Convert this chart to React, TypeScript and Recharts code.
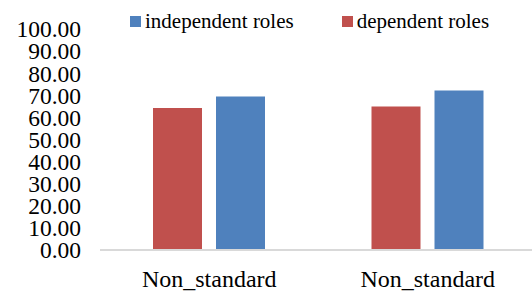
import { BarChart, Bar, XAxis, YAxis } from "recharts";

const categories = ["Non_standard", "Non_standard"];
const dependentRoles = [64.2, 64.9];
const independentRoles = [69.5, 72.2];
const yTicks = [0, 10, 20, 30, 40, 50, 60, 70, 80, 90, 100];

const legendItems = [
  { label: "independent roles", color: "#4F81BD" },
  { label: "dependent roles", color: "#C0504D" },
];

const data = categories.map((name, i) => ({
  name,
  dependent: dependentRoles[i],
  independent: independentRoles[i],
}));

const font = "Times New Roman, Liberation Serif, DejaVu Serif, serif";

export default function App() {
  return (
    <div
      style={{
        position: "absolute",
        left: 0,
        top: 0,
        width: 532,
        height: 291,
        overflow: "hidden",
        background: "#fff",
        fontFamily: font,
      }}
    >
      <div
        style={{
          position: "absolute",
          top: 9,
          left: 130,
          display: "flex",
          gap: 48,
          fontSize: 21,
          color: "#000",
          lineHeight: "24px",
        }}
      >
        {legendItems.map((it) => (
          <div key={it.label} style={{ display: "flex", alignItems: "center" }}>
            <span
              style={{
                display: "inline-block",
                width: 11,
                height: 11,
                background: it.color,
                marginRight: 4,
              }}
            />
            <span>{it.label}</span>
          </div>
        ))}
      </div>
      <BarChart
        width={537}
        height={291}
        data={data}
        margin={{ top: 29, right: 0, left: 0, bottom: 11 }}
        barSize={49}
        barGap={14}
        style={{ fontFamily: font }}
      >
        <XAxis
          dataKey="name"
          axisLine={{ stroke: "#d9d9d9", strokeWidth: 2 }}
          tickLine={false}
          tickSize={0}
          tickMargin={20}
          height={30}
          interval={0}
          tick={{ fill: "#000", fontSize: 24, fontFamily: font }}
        />
        <YAxis
          domain={[0, 100]}
          ticks={yTicks}
          interval={0}
          width={100}
          axisLine={false}
          tickLine={false}
          tickSize={0}
          tickMargin={19}
          tickFormatter={(v: number) => v.toFixed(2)}
          tick={{ fill: "#000", fontSize: 23.5, fontFamily: font }}
        />
        <Bar dataKey="dependent" name="dependent roles" fill="#C0504D" isAnimationActive={false} />
        <Bar dataKey="independent" name="independent roles" fill="#4F81BD" isAnimationActive={false} />
      </BarChart>
    </div>
  );
}
